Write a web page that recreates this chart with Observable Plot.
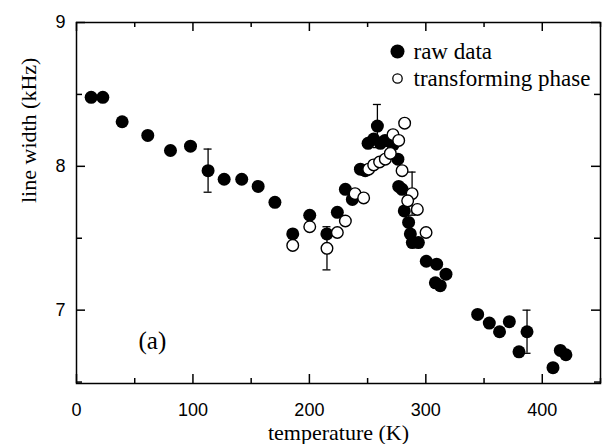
<!DOCTYPE html>
<html>
<head>
<meta charset="utf-8">
<script src="https://cdn.jsdelivr.net/npm/d3@7"></script>
<script src="https://cdn.jsdelivr.net/npm/@observablehq/plot@0.6"></script>
<style>
  html, body { margin: 0; padding: 0; background: white; }
  #chart { width: 603px; height: 444px; }
</style>
</head>
<body>
<div id="chart"></div>
<script>
// raw data (filled circles)
const rawT = [12.6, 22.6, 39.2, 61.2, 80.7, 97.9, 113, 126.8, 141.9, 156, 170.4, 185.7, 200.3, 215, 224, 230.9, 236.9, 243.8, 248, 250.4, 255.2, 258.4, 261, 265, 269.5, 272, 276, 276.7, 279.6, 281.5, 285.2, 286.7, 288.4, 293.6, 300.4, 309.3, 317.3, 308.2, 312.4, 344.5, 354.5, 363.3, 371.7, 386.9, 380, 415.5, 420.3, 409.2];
const rawW = [8.48, 8.48, 8.31, 8.215, 8.11, 8.14, 7.97, 7.91, 7.91, 7.86, 7.75, 7.53, 7.66, 7.53, 7.68, 7.84, 7.77, 7.98, 7.97, 8.16, 8.19, 8.28, 8.16, 8.18, 8.17, 8.15, 8.05, 7.86, 7.84, 7.69, 7.61, 7.53, 7.47, 7.47, 7.34, 7.32, 7.25, 7.19, 7.17, 6.97, 6.91, 6.85, 6.92, 6.85, 6.71, 6.72, 6.69, 6.60];

// transforming phase (open circles)
const phaseT = [185.7, 200.3, 215.1, 224, 230.9, 239.2, 246.6, 250.9, 255.2, 260.3, 265.2, 269.5, 271.8, 276.7, 281.8, 279.6, 288.2, 284.4, 292.7, 300.2];
const phaseW = [7.45, 7.58, 7.43, 7.54, 7.62, 7.81, 7.78, 7.98, 8.01, 8.03, 8.05, 8.09, 8.22, 8.18, 8.30, 7.97, 7.81, 7.76, 7.70, 7.54];

// error bars
const errT = [113, 215.1, 258.4, 288.2, 386.9];
const errW = [7.97, 7.43, 8.28, 7.81, 6.85];
const errD = [0.15, 0.15, 0.15, 0.15, 0.15];

// ticks
const xMajor = [0, 100, 200, 300, 400];
const xMinor = [50, 150, 250, 350, 450];
const yMajor = [7, 8, 9];
const yMinor = [6.5, 7.5, 8.5];

const seriesNames = ["raw data", "transforming phase"];
const xTitle = "temperature (K)";
const yTitle = "line width (kHz)";
const panelLabel = "(a)";

const raw = rawT.map((t, i) => ({T: t, W: rawW[i]}));
const phase = phaseT.map((t, i) => ({T: t, W: phaseW[i]}));
const errs = errT.map((t, i) => ({T: t, lo: errW[i] - errD[i], hi: errW[i] + errD[i]}));

const W = 603, H = 444;
const mL = 76, mR = 3, mT = 22, mB = 61;
const innerW = W - mL - mR, innerH = H - mT - mB;
const xDom = [0, 450], yDom = [6.49, 9];
const pxX = p => p * (xDom[1] - xDom[0]) / innerW;
const pxY = p => p * (yDom[1] - yDom[0]) / innerH;

const serif = "'Liberation Serif', 'Times New Roman', serif";
const sans = "'Liberation Sans', Arial, sans-serif";

// inward tick mark segments (positions from tick arrays, lengths in px -> data units)
const xTickRows = [];
for (const [ticks, len] of [[xMajor, 9], [xMinor, 5]]) {
  for (const v of ticks) {
    xTickRows.push({x: v, lo: yDom[0], hi: yDom[0] + pxY(len)});
    xTickRows.push({x: v, lo: yDom[1] - pxY(len), hi: yDom[1]});
  }
}
const yTickRows = [];
for (const [ticks, len] of [[yMajor, 9], [yMinor, 6]]) {
  for (const v of ticks) {
    yTickRows.push({y: v, lo: xDom[0], hi: xDom[0] + pxX(len)});
    yTickRows.push({y: v, lo: xDom[1] - pxX(len), hi: xDom[1]});
  }
}

const plot = Plot.plot({
  width: W,
  height: H,
  marginLeft: mL,
  marginRight: mR,
  marginTop: mT,
  marginBottom: mB,
  x: {domain: xDom},
  y: {domain: yDom},
  style: {background: "white", color: "black"},
  marks: [
    Plot.axisX({anchor: "bottom", ticks: xMajor, tickSize: 0, tickPadding: 20, label: null,
      tickFormat: d3.format("d"), fontSize: 18, fontFamily: sans}),
    Plot.axisY({anchor: "left", ticks: yMajor, tickSize: 0, tickPadding: 11, label: null,
      tickFormat: d3.format("d"), fontSize: 18, fontFamily: sans}),
    Plot.frame({stroke: "black", strokeWidth: 1.5, fill: "none"}),
    Plot.ruleX(xTickRows, {x: "x", y1: "lo", y2: "hi", stroke: "black", strokeWidth: 1.5}),
    Plot.ruleY(yTickRows, {y: "y", x1: "lo", x2: "hi", stroke: "black", strokeWidth: 1.5}),
    Plot.text([xTitle], {frameAnchor: "bottom", dy: 49, text: d => d, fontSize: 22,
      fontFamily: serif, lineAnchor: "middle", fill: "black"}),
    Plot.text([yTitle], {frameAnchor: "left", dx: -48, text: d => d, rotate: -90, fontSize: 22,
      fontFamily: serif, lineAnchor: "middle", fill: "black"}),
    Plot.ruleX(errs, {x: "T", y1: "lo", y2: "hi", stroke: "black", strokeWidth: 1.3}),
    Plot.ruleY(errs, {y: "lo", x1: "T", x2: "T", insetLeft: -4, insetRight: -4, stroke: "black", strokeWidth: 1.3}),
    Plot.ruleY(errs, {y: "hi", x1: "T", x2: "T", insetLeft: -4, insetRight: -4, stroke: "black", strokeWidth: 1.3}),
    Plot.dot(raw, {x: "T", y: "W", r: 6.5, fill: "black", stroke: "none"}),
    Plot.dot(phase, {x: "T", y: "W", r: 5.8, fill: "white", stroke: "black", strokeWidth: 1.4}),
    Plot.dot([seriesNames[0]], {frameAnchor: "top-right", dx: -203, dy: 29, r: 7, fill: "black"}),
    Plot.dot([seriesNames[1]], {frameAnchor: "top-right", dx: -203, dy: 56, r: 4.7, fill: "white", stroke: "black", strokeWidth: 1.3}),
    Plot.text([seriesNames[0]], {frameAnchor: "top-right", dx: -187, dy: 29, text: d => d, textAnchor: "start",
      lineAnchor: "middle", fontSize: 23, fontFamily: serif, fill: "black"}),
    Plot.text([seriesNames[1]], {frameAnchor: "top-right", dx: -187, dy: 56, text: d => d, textAnchor: "start",
      lineAnchor: "middle", fontSize: 23, fontFamily: serif, fill: "black"}),
    Plot.text([panelLabel], {frameAnchor: "bottom-left", dx: 62, dy: -43, text: d => d,
      lineAnchor: "middle", fontSize: 25, fontFamily: serif, fill: "black"})
  ]
});
document.getElementById("chart").appendChild(plot);
</script>
</body>
</html>
